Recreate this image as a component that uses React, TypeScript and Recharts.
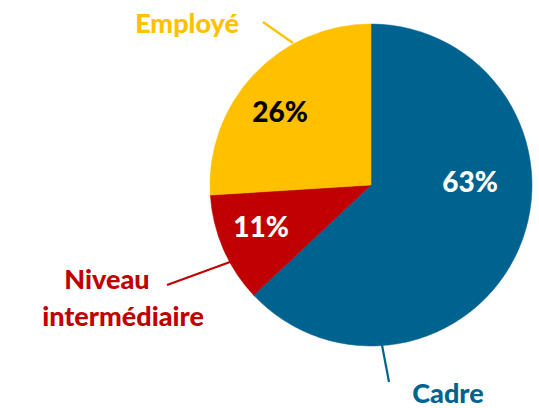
import React from 'react';
import { PieChart, Pie, Cell } from 'recharts';

const categories = ['Cadre', 'Niveau intermédiaire', 'Employé'];
const values = [63, 11, 26];
const sliceColors = ['#00628F', '#C00000', '#FFC000'];
const percentColors = ['#FFFFFF', '#FFFFFF', '#000000'];
const labelLines: string[][] = [['Cadre'], ['Niveau', 'intermédiaire'], ['Employé']];

// label layout offsets relative to the pie centre (px)
const percentOffsets = [
  [99, 7],
  [-110, 52],
  [-91, -63],
];
const leaderLines = [
  [11, 160, 18, 197],
  [-141, 77, -204, 100],
  [-78, -142, -108, -163],
];
const nameOffsets = [
  [[77, 218]],
  [[-264, 104], [-248, 141]],
  [[-184, -152]],
];

const data = categories.map((name, i) => ({ name, value: values[i] }));

const FONT = 'Lato, "Open Sans", sans-serif';

const renderLabel = (props: any) => {
  const { cx, cy, index, value } = props;
  const [px, py] = percentOffsets[index];
  const [x1, y1, x2, y2] = leaderLines[index];
  return (
    <g>
      <text
        x={cx + px}
        y={cy + py}
        textAnchor="middle"
        fill={percentColors[index]}
        fontFamily={FONT}
        fontWeight={900}
        fontSize={28}
      >
        {`${value}%`}
      </text>
      <line
        x1={cx + x1}
        y1={cy + y1}
        x2={cx + x2}
        y2={cy + y2}
        stroke={sliceColors[index]}
        strokeWidth={2.2}
      />
      {labelLines[index].map((t, j) => (
        <text
          key={j}
          x={cx + nameOffsets[index][j][0]}
          y={cy + nameOffsets[index][j][1]}
          textAnchor="middle"
          fill={sliceColors[index]}
          fontFamily={FONT}
          fontWeight={900}
          fontSize={27}
        >
          {t}
        </text>
      ))}
    </g>
  );
};

export default function App() {
  return (
    <div style={{ position: 'absolute', left: 0, top: 0, width: 539, height: 408, background: '#fff' }}>
      <PieChart width={539} height={408} margin={{ top: 0, right: 0, bottom: 0, left: 0 }}>
        <Pie
          data={data}
          dataKey="value"
          nameKey="name"
          cx={371}
          cy={185}
          outerRadius={161}
          innerRadius={0}
          startAngle={90}
          endAngle={-270}
          isAnimationActive={false}
          label={renderLabel}
          labelLine={false}
        >
          {data.map((d, i) => (
            <Cell key={d.name} fill={sliceColors[i]} stroke={sliceColors[i]} strokeWidth={0.5} />
          ))}
        </Pie>
      </PieChart>
    </div>
  );
}
